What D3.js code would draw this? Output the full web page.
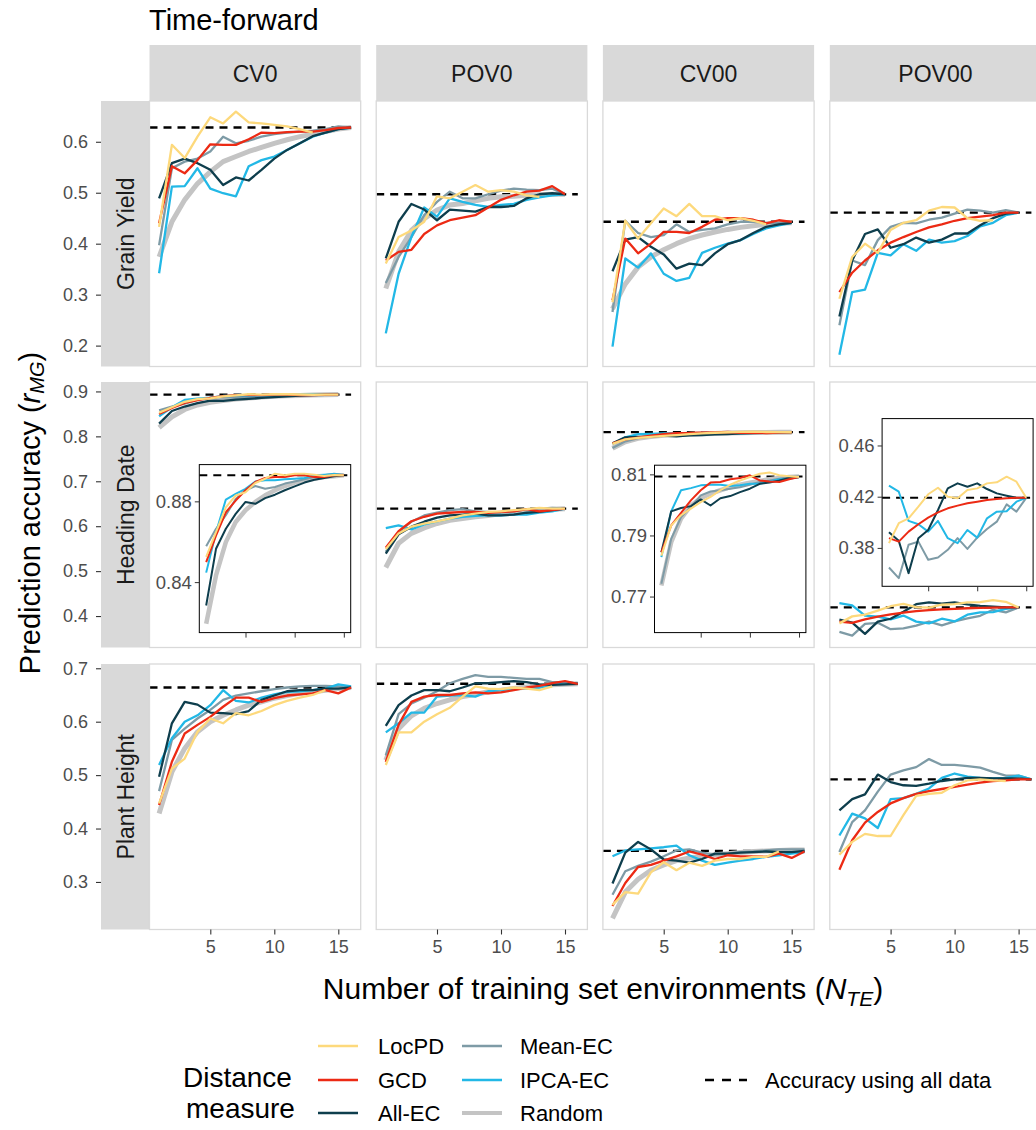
<!DOCTYPE html>
<html>
<head>
<meta charset="utf-8">
<script src="https://cdn.jsdelivr.net/npm/d3@7"></script>
<style>
  body { margin: 0; background: #fff; }
  text { font-family: "Liberation Sans", Arial, sans-serif; }
</style>
</head>
<body>
<div id="chart"></div>
<script>
// Prediction accuracy vs number of training environments, time-forward

const traits = ["Grain Yield", "Heading Date", "Plant Height"];
const scenarios = ["CV0", "POV0", "CV00", "POV00"];
const methods = ["LocPD", "GCD", "All-EC", "Mean-EC", "IPCA-EC", "Random"];

// ---- Grain Yield ----
const gyCV0Loc  = [0.433,0.594,0.568,0.610,0.648,0.636,0.659,0.638,0.636,0.633,0.630,0.625,0.618];
const gyCV0Gcd  = [0.440,0.552,0.538,0.564,0.595,0.594,0.594,0.605,0.618,0.617,0.619,0.620,0.620,0.623,0.627,0.628];
const gyCV0All  = [0.489,0.558,0.567,0.558,0.545,0.515,0.530,0.524,0.545,0.567,0.584,0.597,0.611,0.618,0.625,0.628];
const gyCV0Mean = [0.397,0.548,0.561,0.567,0.581,0.610,0.597,0.602,0.610,0.615,0.618,0.620,0.622,0.625,0.630,0.628];
const gyCV0Ipca = [0.342,0.512,0.513,0.548,0.508,0.499,0.493,0.552,0.564,0.571,0.584,0.597,0.610,0.618,0.625,0.628];
const gyCV0Rand = [0.374,0.443,0.486,0.518,0.541,0.561,0.571,0.581,0.589,0.597,0.604,0.610,0.615,0.620,0.625,0.628];

const gyPOV0Loc  = [0.361,0.413,0.426,0.443,0.493,0.489,0.502,0.515,0.502,0.505,0.502,0.495,0.492];
const gyPOV0Gcd  = [0.367,0.384,0.388,0.419,0.436,0.446,0.451,0.456,0.471,0.486,0.495,0.502,0.504,0.513,0.497];
const gyPOV0All  = [0.371,0.443,0.478,0.467,0.446,0.467,0.465,0.463,0.472,0.472,0.474,0.489,0.497,0.499,0.497];
const gyPOV0Mean = [0.323,0.374,0.413,0.456,0.482,0.502,0.489,0.489,0.497,0.504,0.508,0.506,0.505,0.508,0.497];
const gyPOV0Ipca = [0.224,0.341,0.413,0.471,0.453,0.489,0.482,0.476,0.472,0.476,0.478,0.486,0.491,0.495,0.497];
const gyPOV0Rand = [0.312,0.384,0.426,0.449,0.466,0.476,0.479,0.484,0.489,0.492,0.493,0.495,0.496,0.497,0.497];

const gyCV00Loc  = [0.285,0.445,0.410,0.440,0.469,0.454,0.478,0.454,0.454,0.446,0.450,0.445,0.438];
const gyCV00Gcd  = [0.289,0.410,0.381,0.400,0.423,0.423,0.421,0.433,0.447,0.450,0.450,0.447,0.440,0.446,0.443];
const gyCV00All  = [0.346,0.408,0.413,0.394,0.379,0.351,0.361,0.358,0.381,0.399,0.407,0.421,0.433,0.438,0.441];
const gyCV00Mean = [0.266,0.445,0.421,0.413,0.417,0.438,0.423,0.427,0.430,0.438,0.443,0.443,0.441,0.441,0.441];
const gyCV00Ipca = [0.198,0.371,0.353,0.381,0.341,0.327,0.333,0.382,0.392,0.400,0.407,0.419,0.430,0.436,0.441];
const gyCV00Rand = [0.272,0.321,0.354,0.374,0.388,0.400,0.410,0.417,0.423,0.428,0.432,0.435,0.438,0.440,0.441];

const gyPOV00Loc  = [0.292,0.374,0.400,0.382,0.427,0.441,0.446,0.465,0.472,0.471,0.450,0.445,0.446];
const gyPOV00Gcd  = [0.305,0.343,0.367,0.387,0.402,0.413,0.423,0.432,0.438,0.445,0.450,0.453,0.456,0.461,0.461];
const gyPOV00All  = [0.257,0.367,0.419,0.428,0.392,0.399,0.412,0.402,0.408,0.420,0.420,0.436,0.450,0.459,0.461];
const gyPOV00Mean = [0.240,0.367,0.358,0.407,0.433,0.441,0.440,0.447,0.451,0.459,0.467,0.465,0.461,0.466,0.461];
const gyPOV00Ipca = [0.182,0.305,0.310,0.382,0.377,0.399,0.386,0.408,0.402,0.405,0.415,0.434,0.441,0.456,0.461];

// ---- Heading Date ----
const hdCV0Loc  = [0.8525,0.8647,0.8770,0.8829,0.8845,0.8891,0.8912,0.8937,0.8929,0.8937,0.8937,0.8932,0.8926,0.8930,0.8929];
const hdCV0Gcd  = [0.8499,0.8630,0.8746,0.8804,0.8855,0.8896,0.8916,0.8920,0.8920,0.8929,0.8929,0.8920,0.8920,0.8929,0.8929];
const hdCV0All  = [0.8284,0.8565,0.8664,0.8738,0.8797,0.8788,0.8816,0.8833,0.8855,0.8874,0.8893,0.8907,0.8916,0.8924,0.8929];
const hdCV0Mean = [0.8578,0.8664,0.8731,0.8812,0.8855,0.8876,0.8862,0.8871,0.8888,0.8898,0.8909,0.8920,0.8929,0.8937,0.8932];
const hdCV0Ipca = [0.8447,0.8647,0.8809,0.8837,0.8862,0.8898,0.8904,0.8904,0.8909,0.8912,0.8916,0.8929,0.8932,0.8936,0.8929];
const hdCV0Rand = [0.8194,0.8433,0.8598,0.8698,0.8756,0.8797,0.8830,0.8855,0.8876,0.8893,0.8904,0.8912,0.8920,0.8924,0.8929];

const hdPOV0Loc  = [0.549,0.584,0.599,0.606,0.611,0.617,0.624,0.628,0.632,0.633,0.636,0.638,0.641,0.639,0.639];
const hdPOV0Gcd  = [0.552,0.589,0.611,0.621,0.628,0.630,0.632,0.632,0.630,0.632,0.633,0.638,0.633,0.636,0.639];
const hdPOV0All  = [0.539,0.582,0.599,0.610,0.619,0.624,0.626,0.628,0.624,0.624,0.626,0.630,0.632,0.636,0.639];
const hdPOV0Mean = [0.543,0.587,0.610,0.624,0.630,0.636,0.638,0.633,0.632,0.630,0.633,0.638,0.639,0.641,0.639];
const hdPOV0Ipca = [0.596,0.602,0.593,0.604,0.611,0.617,0.621,0.623,0.624,0.624,0.626,0.626,0.630,0.633,0.639];
const hdPOV0Rand = [0.508,0.562,0.584,0.596,0.606,0.613,0.617,0.621,0.624,0.628,0.630,0.633,0.636,0.638,0.639];

const hdCV00Loc  = [0.7834,0.7933,0.7966,0.7988,0.8009,0.8026,0.8048,0.8066,0.8080,0.8091,0.8102,0.8106,0.8097,0.8094,0.8091];
const hdCV00Gcd  = [0.7845,0.7933,0.7974,0.8015,0.8048,0.8073,0.8075,0.8084,0.8088,0.8097,0.8080,0.8077,0.8075,0.8084,0.8091];
const hdCV00All  = [0.7845,0.7979,0.7990,0.7996,0.8018,0.7998,0.8022,0.8029,0.8042,0.8053,0.8069,0.8073,0.8080,0.8088,0.8091];
const hdCV00Mean = [0.7742,0.7889,0.7960,0.7993,0.8031,0.8044,0.8048,0.8053,0.8058,0.8066,0.8075,0.8080,0.8086,0.8091,0.8094];
const hdCV00Ipca = [0.7829,0.7979,0.8048,0.8055,0.8064,0.8066,0.8066,0.8062,0.8064,0.8069,0.8069,0.8077,0.8084,0.8086,0.8091];
const hdCV00Rand = [0.7736,0.7878,0.7955,0.7998,0.8022,0.8037,0.8048,0.8058,0.8066,0.8073,0.8078,0.8084,0.8088,0.8091,0.8093];

const hdPOV00Loc  = [0.3837,0.3993,0.4031,0.4122,0.4219,0.4270,0.4200,0.4187,0.4252,0.4265,0.4304,0.4312,0.4356,0.4317,0.4191];
const hdPOV00Gcd  = [0.3876,0.3849,0.3927,0.3985,0.4037,0.4078,0.4109,0.4130,0.4148,0.4161,0.4174,0.4182,0.4187,0.4191,0.4191];
const hdPOV00All  = [0.3922,0.3855,0.3603,0.3876,0.3940,0.4096,0.4265,0.4304,0.4278,0.4304,0.4260,0.4226,0.4208,0.4191,0.4191];
const hdPOV00Mean = [0.3647,0.3564,0.3824,0.3849,0.3707,0.3725,0.3785,0.3876,0.3792,0.3880,0.3948,0.4005,0.4140,0.4083,0.4191];
const hdPOV00Ipca = [0.4286,0.4239,0.4011,0.3985,0.3927,0.4011,0.3876,0.3837,0.3940,0.3880,0.4031,0.4083,0.4086,0.4161,0.4191];

// ---- Plant Height ----
const phCV0Loc  = [0.447,0.512,0.531,0.581,0.606,0.597,0.616,0.612,0.620,0.631,0.639,0.645,0.650,0.659];
const phCV0Gcd  = [0.444,0.525,0.578,0.594,0.609,0.628,0.645,0.645,0.637,0.644,0.649,0.651,0.653,0.659,0.653,0.664];
const phCV0All  = [0.497,0.597,0.637,0.632,0.617,0.616,0.614,0.620,0.641,0.649,0.657,0.659,0.659,0.662,0.662,0.664];
const phCV0Mean = [0.470,0.566,0.587,0.606,0.622,0.641,0.649,0.653,0.657,0.661,0.664,0.666,0.667,0.667,0.666,0.664];
const phCV0Ipca = [0.519,0.569,0.600,0.612,0.631,0.659,0.639,0.636,0.645,0.651,0.656,0.657,0.659,0.662,0.670,0.666];
const phCV0Rand = [0.428,0.506,0.550,0.581,0.600,0.612,0.622,0.631,0.637,0.644,0.649,0.653,0.656,0.659,0.662,0.664];

const phPOV0Loc  = [0.519,0.580,0.580,0.600,0.614,0.626,0.647,0.666,0.662,0.661,0.664,0.662,0.659,0.666];
const phPOV0Gcd  = [0.525,0.594,0.637,0.647,0.650,0.650,0.653,0.655,0.653,0.655,0.659,0.664,0.667,0.672,0.676,0.671];
const phPOV0All  = [0.592,0.631,0.649,0.659,0.659,0.657,0.664,0.672,0.672,0.674,0.676,0.674,0.670,0.669,0.670,0.671];
const phPOV0Mean = [0.537,0.614,0.634,0.645,0.657,0.672,0.680,0.687,0.684,0.684,0.682,0.680,0.680,0.674,0.674,0.671];
const phPOV0Ipca = [0.580,0.597,0.617,0.617,0.647,0.649,0.650,0.647,0.657,0.659,0.662,0.662,0.664,0.669,0.674,0.671];
const phPOV0Rand = [0.528,0.587,0.611,0.625,0.634,0.641,0.647,0.651,0.656,0.659,0.662,0.665,0.667,0.669,0.670,0.671];

const phCV00Loc  = [0.257,0.281,0.278,0.318,0.337,0.322,0.336,0.330,0.340,0.343,0.343,0.347,0.347,0.357];
const phCV00Gcd  = [0.255,0.298,0.328,0.332,0.340,0.348,0.357,0.351,0.343,0.350,0.348,0.348,0.347,0.353,0.345,0.357];
const phCV00All  = [0.297,0.355,0.375,0.361,0.342,0.340,0.336,0.343,0.353,0.353,0.355,0.356,0.357,0.356,0.356,0.358];
const phCV00Mean = [0.276,0.320,0.330,0.338,0.348,0.359,0.361,0.355,0.351,0.353,0.356,0.357,0.359,0.361,0.361,0.361];
const phCV00Ipca = [0.348,0.359,0.361,0.363,0.365,0.368,0.350,0.340,0.332,0.336,0.340,0.343,0.347,0.350,0.353,0.356];
const phCV00Rand = [0.232,0.281,0.305,0.322,0.332,0.340,0.345,0.348,0.351,0.353,0.355,0.357,0.358,0.359,0.360,0.360];

const phPOV00Loc  = [0.351,0.375,0.390,0.386,0.386,0.425,0.461,0.465,0.467,0.481,0.490,0.492,0.490,0.489];
const phPOV00Gcd  = [0.323,0.378,0.411,0.431,0.447,0.457,0.465,0.470,0.474,0.478,0.482,0.486,0.489,0.490,0.492,0.492];
const phPOV00All  = [0.434,0.455,0.464,0.501,0.487,0.481,0.480,0.484,0.489,0.492,0.495,0.495,0.494,0.494,0.494,0.492];
const phPOV00Mean = [0.356,0.412,0.434,0.469,0.501,0.509,0.515,0.530,0.519,0.519,0.517,0.514,0.506,0.499,0.499,0.492];
const phPOV00Ipca = [0.387,0.428,0.419,0.401,0.455,0.457,0.465,0.475,0.495,0.503,0.497,0.495,0.494,0.495,0.499,0.492];

// accuracy using all data (dashed), rows = traits, cols = scenarios
const allDataGY = [0.628, 0.497, 0.443, 0.461];
const allDataHD = [0.8929, 0.639, 0.8093, 0.4191];
const allDataPH = [0.664, 0.671, 0.358, 0.492];

// y axis ticks per row, and inset ticks
const yTicksGY = [0.2, 0.3, 0.4, 0.5, 0.6];
const yTicksHD = [0.4, 0.5, 0.6, 0.7, 0.8, 0.9];
const yTicksPH = [0.3, 0.4, 0.5, 0.6, 0.7];
const xTicks = [5, 10, 15];
const insetTicksCV0 = [0.84, 0.88];
const insetTicksCV00 = [0.77, 0.79, 0.81];
const insetTicksPOV00 = [0.38, 0.42, 0.46];

// ---- build the table ----
const grid = [
  [[gyCV0Loc, gyCV0Gcd, gyCV0All, gyCV0Mean, gyCV0Ipca, gyCV0Rand],
   [gyPOV0Loc, gyPOV0Gcd, gyPOV0All, gyPOV0Mean, gyPOV0Ipca, gyPOV0Rand],
   [gyCV00Loc, gyCV00Gcd, gyCV00All, gyCV00Mean, gyCV00Ipca, gyCV00Rand],
   [gyPOV00Loc, gyPOV00Gcd, gyPOV00All, gyPOV00Mean, gyPOV00Ipca, null]],
  [[hdCV0Loc, hdCV0Gcd, hdCV0All, hdCV0Mean, hdCV0Ipca, hdCV0Rand],
   [hdPOV0Loc, hdPOV0Gcd, hdPOV0All, hdPOV0Mean, hdPOV0Ipca, hdPOV0Rand],
   [hdCV00Loc, hdCV00Gcd, hdCV00All, hdCV00Mean, hdCV00Ipca, hdCV00Rand],
   [hdPOV00Loc, hdPOV00Gcd, hdPOV00All, hdPOV00Mean, hdPOV00Ipca, null]],
  [[phCV0Loc, phCV0Gcd, phCV0All, phCV0Mean, phCV0Ipca, phCV0Rand],
   [phPOV0Loc, phPOV0Gcd, phPOV0All, phPOV0Mean, phPOV0Ipca, phPOV0Rand],
   [phCV00Loc, phCV00Gcd, phCV00All, phCV00Mean, phCV00Ipca, phCV00Rand],
   [phPOV00Loc, phPOV00Gcd, phPOV00All, phPOV00Mean, phPOV00Ipca, null]]
];
const allData = [allDataGY, allDataHD, allDataPH];
const yTicks = [yTicksGY, yTicksHD, yTicksPH];

const colors = {
  "LocPD": "#FDD97C", "GCD": "#EC2A14", "All-EC": "#0E3E4D",
  "Mean-EC": "#7E9BA6", "IPCA-EC": "#22B8E6", "Random": "#C4C4C4"
};
const drawOrder = ["Random", "Mean-EC", "IPCA-EC", "All-EC", "GCD", "LocPD"];

// ---- layout ----
const W = 1036, H = 1130;
const colLeft = [149.5, 376.2, 602.9, 829.8];
const rowTop = [101, 382, 664];
const panelW = 211.2, panelH = 265.5;
const yDomains = [[0.159, 0.680], [0.330, 0.921], [0.211, 0.708]];

// insets on Heading Date row
const insets = [
  { col: 0, x: 49.8, y: 82.6, w: 151.4, h: 168, domain: [0.815, 0.8982], ticks: insetTicksCV0 },
  { col: 2, x: 51.6, y: 83.2, w: 151.4, h: 167.4, domain: [0.7582, 0.813], ticks: insetTicksCV00 },
  { col: 3, x: 52.3, y: 36.6, w: 151, h: 167.7, domain: [0.350, 0.481], ticks: insetTicksPOV00 }
];

const svg = d3.select("#chart").append("svg")
  .attr("width", W).attr("height", H)
  .style("display", "block");

svg.append("text")
  .attr("x", 149).attr("y", 30)
  .attr("font-size", 29).attr("fill", "#000")
  .text("Time-forward");

const xScale = d3.scaleLinear().domain([0.25, 16.75]).range([0, panelW]);

function drawSeries(g, series, x, y, lw, randW) {
  const line = d3.line().x((d, i) => x(i + 1)).y(d => y(d));
  drawOrder.forEach(m => {
    const vals = series[methods.indexOf(m)];
    if (!vals) return;
    g.append("path")
      .datum(vals)
      .attr("fill", "none")
      .attr("stroke", colors[m])
      .attr("stroke-width", m === "Random" ? randW : lw)
      .attr("stroke-linejoin", "round")
      .attr("d", line);
  });
}

// column strips
scenarios.forEach((s, c) => {
  svg.append("rect")
    .attr("x", colLeft[c]).attr("y", 45)
    .attr("width", panelW).attr("height", 56)
    .attr("fill", "#D9D9D9");
  svg.append("text")
    .attr("x", colLeft[c] + panelW / 2).attr("y", 74)
    .attr("text-anchor", "middle").attr("dominant-baseline", "central")
    .attr("font-size", 23).attr("fill", "#1A1A1A")
    .text(s);
});

traits.forEach((t, r) => {
  const top = rowTop[r];
  const yScale = d3.scaleLinear().domain(yDomains[r]).range([top + panelH, top]);

  // row strip
  svg.append("rect")
    .attr("x", 101).attr("y", top)
    .attr("width", 48.5).attr("height", panelH)
    .attr("fill", "#D9D9D9");
  svg.append("text")
    .attr("transform", `translate(126, ${top + panelH / 2}) rotate(-90)`)
    .attr("text-anchor", "middle").attr("dominant-baseline", "central")
    .attr("font-size", 23).attr("fill", "#1A1A1A")
    .text(t);

  // y axis to the left of the strip
  const yAxis = svg.append("g")
    .attr("transform", "translate(101, 0)")
    .call(d3.axisLeft(yScale).tickValues(yTicks[r]).tickFormat(d3.format(".1f")).tickSize(5).tickPadding(8));
  yAxis.select(".domain").remove();
  yAxis.selectAll(".tick line").attr("stroke", "#333").attr("stroke-width", 1.1);
  yAxis.selectAll(".tick text").attr("font-size", 18).attr("fill", "#4D4D4D")
    .attr("font-family", "Liberation Sans, Arial, sans-serif");

  scenarios.forEach((s, c) => {
    const g = svg.append("g").attr("transform", `translate(${colLeft[c]}, ${top})`);
    const y = d3.scaleLinear().domain(yDomains[r]).range([panelH, 0]);

    const clipId = `clip-${r}-${c}`;
    g.append("clipPath").attr("id", clipId)
      .append("rect").attr("width", panelW).attr("height", panelH);

    g.append("rect")
      .attr("width", panelW).attr("height", panelH)
      .attr("fill", "#fff");

    const inner = g.append("g").attr("clip-path", `url(#${clipId})`);

    // accuracy using all data
    inner.append("line")
      .attr("x1", 0).attr("x2", xScale(16))
      .attr("y1", y(allData[r][c])).attr("y2", y(allData[r][c]))
      .attr("stroke", "#000").attr("stroke-width", 2.3)
      .attr("stroke-dasharray", "8,6");

    drawSeries(inner, grid[r][c], xScale, y, 2.3, 5);

    // inset zoom for heading date
    if (r === 1) {
      insets.filter(d => d.col === c).forEach(ins => {
        const ig = g.append("g").attr("transform", `translate(${ins.x}, ${ins.y})`);
        const ix = d3.scaleLinear().domain([0.3, 15.7]).range([0, ins.w]);
        const iy = d3.scaleLinear().domain(ins.domain).range([ins.h, 0]);
        const iclip = `iclip-${c}`;
        ig.append("clipPath").attr("id", iclip)
          .append("rect").attr("width", ins.w).attr("height", ins.h);
        ig.append("rect").attr("width", ins.w).attr("height", ins.h).attr("fill", "#fff");
        const ii = ig.append("g").attr("clip-path", `url(#${iclip})`);
        ii.append("line")
          .attr("x1", 0).attr("x2", ins.w)
          .attr("y1", iy(allData[r][c])).attr("y2", iy(allData[r][c]))
          .attr("stroke", "#000").attr("stroke-width", 2)
          .attr("stroke-dasharray", "8,6");
        drawSeries(ii, grid[r][c], ix, iy, 2, 4.5);
        ig.append("rect").attr("width", ins.w).attr("height", ins.h)
          .attr("fill", "none").attr("stroke", "#000").attr("stroke-width", 1);

        const iyAxis = ig.append("g")
          .call(d3.axisLeft(iy).tickValues(ins.ticks).tickFormat(d3.format(".2f")).tickSize(4.5).tickPadding(3));
        iyAxis.select(".domain").remove();
        iyAxis.selectAll(".tick line").attr("stroke", "#333");
        iyAxis.selectAll(".tick text").attr("font-size", 18.5).attr("fill", "#4D4D4D")
          .attr("font-family", "Liberation Sans, Arial, sans-serif");
        const ixAxis = ig.append("g")
          .attr("transform", `translate(0, ${ins.h})`)
          .call(d3.axisBottom(ix).tickValues(xTicks).tickFormat("").tickSize(5));
        ixAxis.select(".domain").remove();
        ixAxis.selectAll(".tick line").attr("stroke", "#333");
      });
    }

    // panel border
    g.append("rect")
      .attr("width", panelW).attr("height", panelH)
      .attr("fill", "none").attr("stroke", "#D9D9D9").attr("stroke-width", 1.3);

    // x axis on bottom row
    if (r === traits.length - 1) {
      const xAxis = g.append("g")
        .attr("transform", `translate(0, ${panelH})`)
        .call(d3.axisBottom(xScale).tickValues(xTicks).tickSize(5).tickPadding(6));
      xAxis.select(".domain").remove();
      xAxis.selectAll(".tick line").attr("stroke", "#333").attr("stroke-width", 1.1);
      xAxis.selectAll(".tick text").attr("font-size", 18).attr("fill", "#4D4D4D")
        .attr("font-family", "Liberation Sans, Arial, sans-serif");
    }
  });
});

// axis titles
const yTitle = svg.append("text")
  .attr("transform", "translate(30, 513) rotate(-90)")
  .attr("text-anchor", "middle").attr("dominant-baseline", "central")
  .attr("font-size", 29).attr("fill", "#000");
yTitle.append("tspan").text("Prediction accuracy (");
yTitle.append("tspan").attr("font-style", "italic").text("r");
yTitle.append("tspan").attr("font-style", "italic").attr("font-size", 20).attr("dy", 7).text("MG");
yTitle.append("tspan").attr("dy", -7).text(")");

const xTitle = svg.append("text")
  .attr("x", 603).attr("y", 999)
  .attr("text-anchor", "middle")
  .attr("font-size", 30).attr("fill", "#000");
xTitle.append("tspan").text("Number of training set environments (");
xTitle.append("tspan").attr("font-style", "italic").text("N");
xTitle.append("tspan").attr("font-style", "italic").attr("font-size", 21).attr("dy", 7).text("TE");
xTitle.append("tspan").attr("dy", -7).text(")");

// ---- legend ----
const legend = svg.append("g");
legend.append("text").attr("x", 183).attr("y", 1087).attr("font-size", 28).text("Distance");
legend.append("text").attr("x", 186).attr("y", 1118).attr("font-size", 28).text("measure");

const legendRows = [1046, 1080, 1113];
const legendCols = [{ key: 318, text: 378 }, { key: 462, text: 520 }];
methods.forEach((m, i) => {
  const col = legendCols[Math.floor(i / 3)];
  const yy = legendRows[i % 3];
  legend.append("line")
    .attr("x1", col.key).attr("x2", col.key + 40)
    .attr("y1", yy).attr("y2", yy)
    .attr("stroke", colors[m]).attr("stroke-width", m === "Random" ? 4 : 2.5);
  legend.append("text")
    .attr("x", col.text).attr("y", yy)
    .attr("dominant-baseline", "central")
    .attr("font-size", 22).text(m);
});
legend.append("line")
  .attr("x1", 705).attr("x2", 747).attr("y1", 1080).attr("y2", 1080)
  .attr("stroke", "#000").attr("stroke-width", 2.5).attr("stroke-dasharray", "9,8");
legend.append("text")
  .attr("x", 765).attr("y", 1080).attr("dominant-baseline", "central")
  .attr("font-size", 22).text("Accuracy using all data");
</script>
</body>
</html>
